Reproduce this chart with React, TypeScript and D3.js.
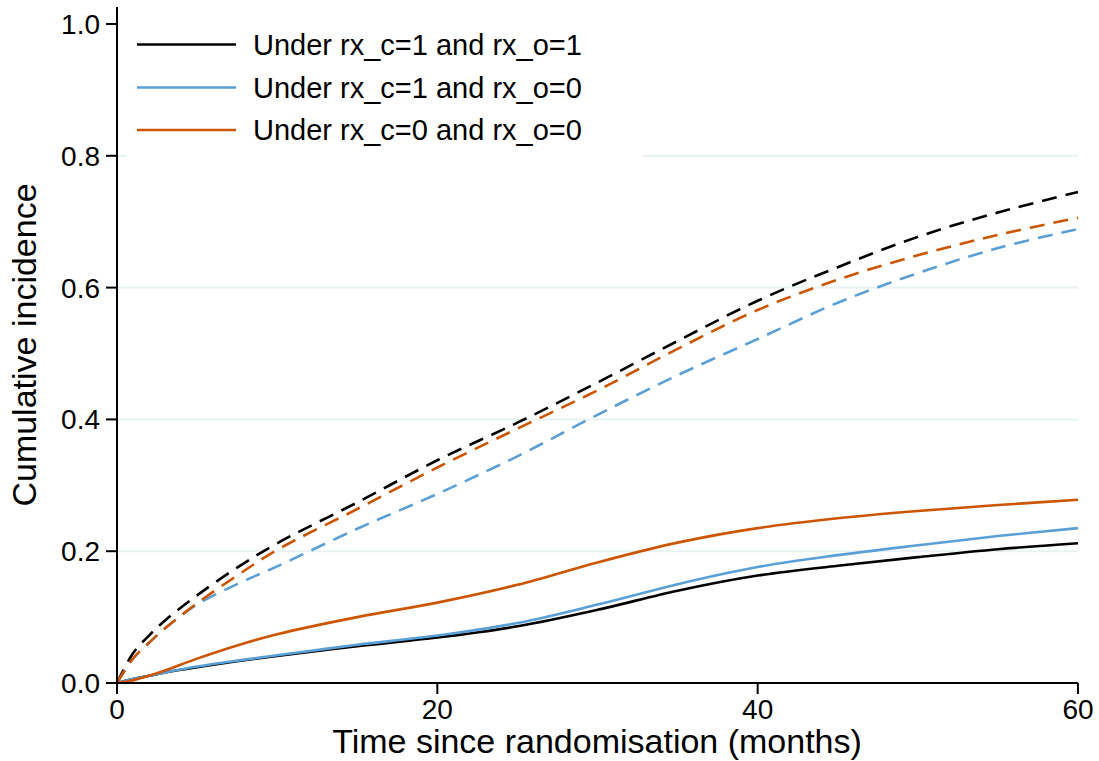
import React from "react";
import * as d3 from "d3";

const times = [0, 1, 2, 3, 5, 7.5, 10, 15, 20, 25, 30, 35, 40, 45, 50, 55, 60];

// dashed curves
const dashBlack = [0, 0.045, 0.072, 0.095, 0.133, 0.175, 0.212, 0.274, 0.338, 0.395, 0.456, 0.519, 0.580, 0.631, 0.677, 0.714, 0.745];
const dashOrange = [0, 0.037, 0.061, 0.083, 0.121, 0.163, 0.202, 0.264, 0.327, 0.386, 0.444, 0.507, 0.566, 0.612, 0.649, 0.680, 0.706];
const dashBlue = [0, 0.037, 0.061, 0.083, 0.119, 0.150, 0.177, 0.234, 0.287, 0.344, 0.407, 0.467, 0.522, 0.577, 0.622, 0.660, 0.689];

// solid curves
const solidBlack = [0, 0.006, 0.011, 0.016, 0.024, 0.033, 0.041, 0.056, 0.069, 0.086, 0.111, 0.140, 0.163, 0.178, 0.191, 0.203, 0.212];
const solidBlue = [0, 0.006, 0.011, 0.016, 0.025, 0.034, 0.042, 0.058, 0.072, 0.091, 0.119, 0.150, 0.176, 0.194, 0.209, 0.223, 0.235];
const solidOrange = [0, 0.004, 0.011, 0.019, 0.037, 0.057, 0.074, 0.100, 0.122, 0.149, 0.183, 0.213, 0.235, 0.250, 0.261, 0.270, 0.278];

const xTicks = [0, 20, 40, 60];
const yTicks = [0, 0.2, 0.4, 0.6, 0.8, 1.0];
const gridTicks = [0.2, 0.4, 0.6, 0.8];

const legendLabels = ["Under rx_c=1 and rx_o=1", "Under rx_c=1 and rx_o=0", "Under rx_c=0 and rx_o=0"];

const BLACK = "#000000";
const BLUE = "#5a9fd6";
const ORANGE = "#cc5500";
const GRID = "#e8f1f3";
const FONT = "'Liberation Sans', Arial, sans-serif";

export default function App() {
  const W = 1099, H = 761;
  const x = d3.scaleLinear().domain([0, 60]).range([117, 1078]);
  const y = d3.scaleLinear().domain([0, 1]).range([683, 24]);
  const line = d3
    .line<number>()
    .x((_, i) => x(times[i]))
    .y((d) => y(d))
    .curve(d3.curveCatmullRom.alpha(0.5));

  const series = [
    { v: solidBlack, c: BLACK, dash: null },
    { v: solidBlue, c: BLUE, dash: null },
    { v: solidOrange, c: ORANGE, dash: null },
    { v: dashBlack, c: BLACK, dash: "15 9" },
    { v: dashBlue, c: BLUE, dash: "15 9" },
    { v: dashOrange, c: ORANGE, dash: "15 9" },
  ];
  const legendColors = [BLACK, BLUE, ORANGE];
  const legendY = [44.5, 87.5, 130];

  return (
    <svg
      width={W}
      height={H}
      style={{ position: "absolute", left: 0, top: 0, background: "#fff" }}
      fontFamily={FONT}
    >
      <rect x={0} y={0} width={W} height={H} fill="#fff" />
      {gridTicks.map((t) => (
        <line key={t} x1={x(0)} x2={x(60)} y1={y(t)} y2={y(t)} stroke={GRID} strokeWidth={2} />
      ))}
      <rect x={127} y={10} width={516} height={152} fill="#fff" />
      {series.map((s, i) => (
        <path
          key={i}
          d={line(s.v) || ""}
          fill="none"
          stroke={s.c}
          strokeWidth={2.6}
          strokeDasharray={s.dash || undefined}
        />
      ))}
      {/* axes */}
      <line x1={x(0)} x2={x(0)} y1={7} y2={y(0)} stroke="#000" strokeWidth={2} />
      <line x1={x(0) - 11} x2={x(60)} y1={y(0)} y2={y(0)} stroke="#000" strokeWidth={2} />
      {yTicks.map((t) => (
        <g key={t}>
          <line x1={x(0) - 11} x2={x(0)} y1={y(t)} y2={y(t)} stroke="#000" strokeWidth={2} />
          <text x={100} y={y(t)} dy="0.36em" textAnchor="end" fontSize={28} fill="#000">
            {t.toFixed(1)}
          </text>
        </g>
      ))}
      {xTicks.map((t) => (
        <g key={t}>
          <line x1={x(t)} x2={x(t)} y1={y(0)} y2={y(0) + 11} stroke="#000" strokeWidth={2} />
          <text x={x(t)} y={719} textAnchor="middle" fontSize={28} fill="#000">
            {t}
          </text>
        </g>
      ))}
      <text x={597} y={753} textAnchor="middle" fontSize={34} fill="#000">
        Time since randomisation (months)
      </text>
      <text
        transform={`translate(36, 345) rotate(-90)`}
        textAnchor="middle"
        fontSize={34}
        fill="#000"
      >
        Cumulative incidence
      </text>
      {/* legend */}
      {legendLabels.map((l, i) => (
        <g key={l}>
          <line x1={137} x2={236} y1={legendY[i]} y2={legendY[i]} stroke={legendColors[i]} strokeWidth={2.6} />
          <text x={253} y={legendY[i] + 10} fontSize={29} fill="#000">
            {l}
          </text>
        </g>
      ))}
    </svg>
  );
}
